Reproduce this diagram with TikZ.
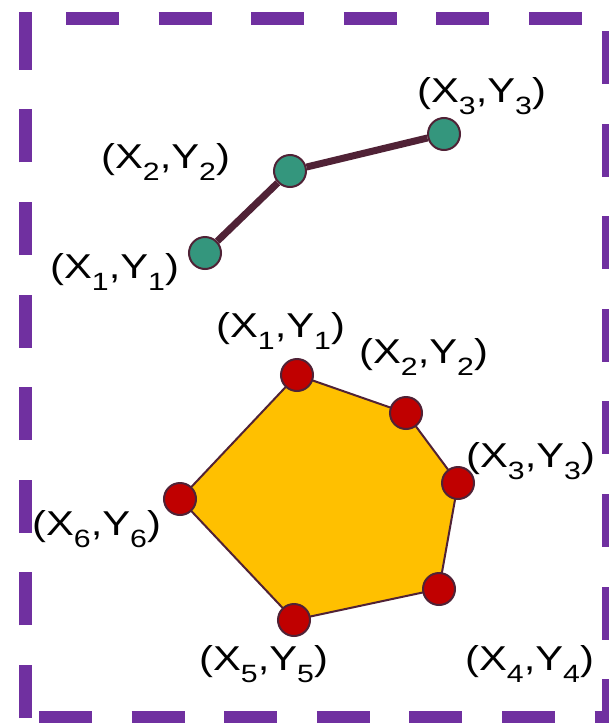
\documentclass[tikz,border=0pt]{standalone}
\usepackage{fontspec}
\setmainfont{Liberation Sans}
\usepackage{graphicx}
\definecolor{framepurple}{HTML}{7030A0}
\definecolor{maroonline}{HTML}{502236}
\definecolor{tealdot}{HTML}{34967D}
\definecolor{reddot}{HTML}{C00000}
\definecolor{goldfill}{HTML}{FFC000}
\newcommand\crd[1]{\scalebox{1.21}[1]{\fontsize{34.5}{34.5}\selectfont(X\raisebox{-12pt}{\fontsize{25}{25}\selectfont #1},Y\raisebox{-12pt}{\fontsize{25}{25}\selectfont #1})}}
\tikzset{
  frameline/.style={draw=framepurple, line width=13pt, line cap=butt},
  framedash/.style={frameline, dash pattern=on 53pt off 39.6pt},
  greendot/.style={circle, fill=tealdot, draw=maroonline, line width=2pt, minimum size=32pt, inner sep=0pt},
  redpt/.style={circle, fill=reddot, draw=maroonline, line width=2pt, minimum size=32pt, inner sep=0pt},
  coordlab/.style={anchor=base west, inner sep=0pt, text=black},
  polyline/.style={draw=maroonline, line width=7pt},
  polyfill/.style={fill=goldfill, draw=maroonline, line width=2pt, line join=miter}
}
\begin{document}
\begin{tikzpicture}[x=1pt, y=-1pt]
\useasboundingbox (0,0) rectangle (608,723);
\fill[white] (0,0) rectangle (608,723);

% dashed frame
\draw[framedash] (66,18.25) -- (620,18.25);
\draw[framedash] (25,718) -- (25,100);
\draw[frameline] (25,69.8) -- (25,12);
\draw[framedash] (608.5,31) -- (608.5,730);
\draw[framedash] (39,717.5) -- (620,717.5);

% open polyline
\node[greendot] (a1) at (205,253) {};
\node[greendot] (a2) at (290,171) {};
\node[greendot] (a3) at (444,134) {};
\draw[polyline] (a1) -- (a2) -- (a3);
\node[coordlab] (la1) at (50,278) {\crd{1}};
\node[coordlab] (la2) at (101,168) {\crd{2}};
\node[coordlab] (la3) at (417,102) {\crd{3}};

% polygon
\coordinate (p1) at (297,375);
\coordinate (p2) at (406,413);
\coordinate (p3) at (458,483);
\coordinate (p4) at (439,589);
\coordinate (p5) at (294,620);
\coordinate (p6) at (180,499);
\path[polyfill] (p1) -- (p2) -- (p3) -- (p4) -- (p5) -- (p6) -- cycle;
\node[redpt] (v1) at (p1) {};
\node[redpt] (v2) at (p2) {};
\node[redpt] (v3) at (p3) {};
\node[redpt] (v4) at (p4) {};
\node[redpt] (v5) at (p5) {};
\node[redpt] (v6) at (p6) {};
\node[coordlab] (lv1) at (216,337) {\crd{1}};
\node[coordlab] (lv2) at (359,363) {\crd{2}};
\node[coordlab] (lv3) at (466,467) {\crd{3}};
\node[coordlab] (lv4) at (465,670) {\crd{4}};
\node[coordlab] (lv5) at (199,670) {\crd{5}};
\node[coordlab] (lv6) at (32,535) {\crd{6}};
\end{tikzpicture}
\end{document}
